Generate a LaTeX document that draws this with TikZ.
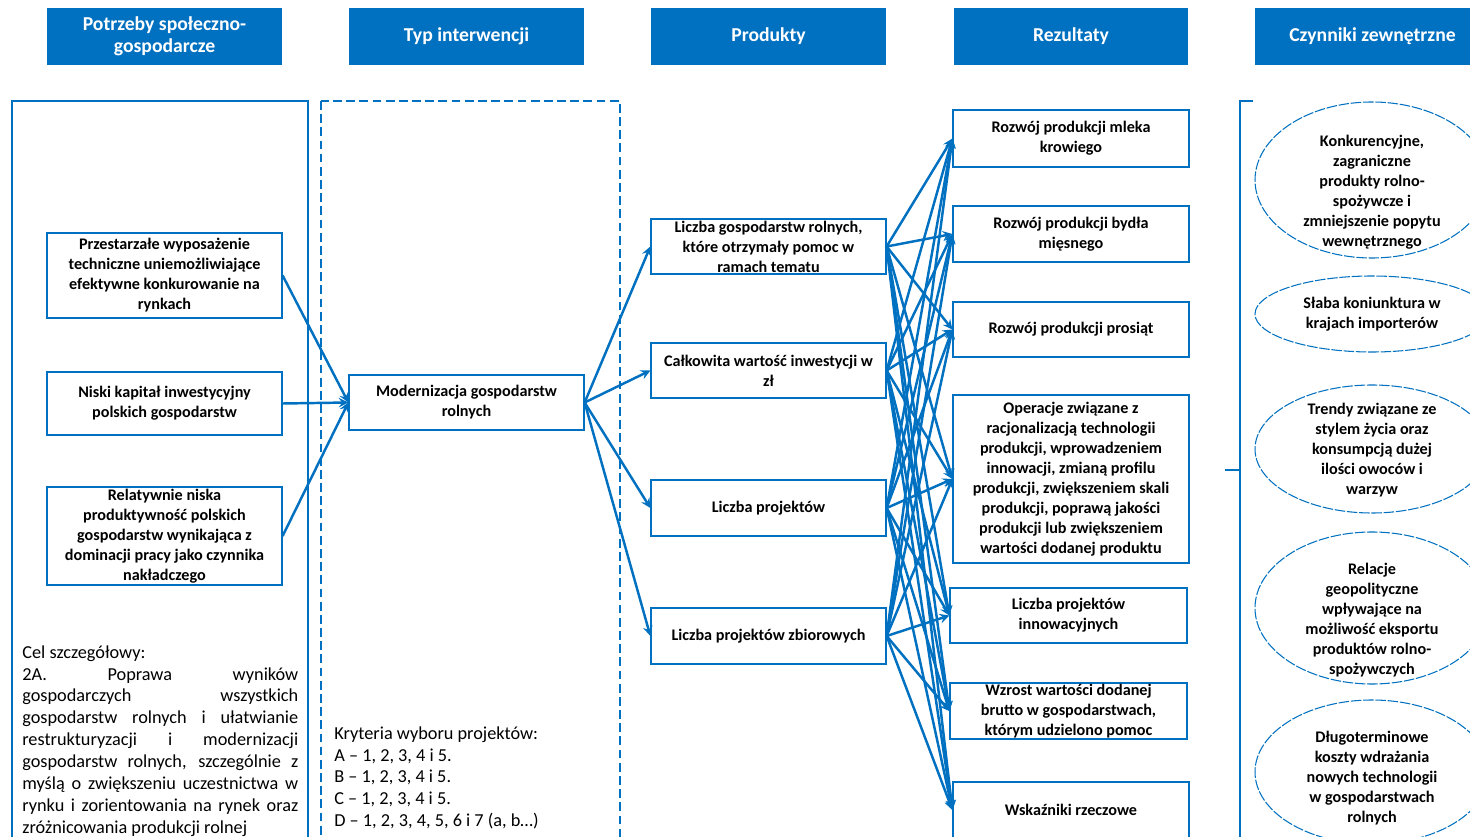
\documentclass[tikz,border=0pt]{standalone}
\usepackage{fontspec}
\setmainfont{Carlito}
\usepackage{xcolor}
\usepackage{tikz}
\usetikzlibrary{calc, shapes.geometric, positioning}
\definecolor{niebieski}{RGB}{0,112,192}

\begin{document}
\begin{tikzpicture}[>=stealth, x=0.02cm, y=-0.02cm,
    naglowek/.style={fill=niebieski, text=white, minimum width=4.7cm, minimum height=1.14cm,
        align=center, inner sep=0pt, font=\fontsize{11.2}{12.6}\selectfont\bfseries},
    ramka/.style={draw=niebieski, line width=0.75pt, minimum width=4.7cm, align=center,
        inner sep=0pt, font=\fontsize{9.2}{11.4}\selectfont\bfseries},
    czynnik/.style={align=center, inner sep=0pt, font=\fontsize{9.2}{11.4}\selectfont\bfseries},
    owal/.style={draw=niebieski, line width=0.6pt, dash pattern=on 6pt off 1pt},
    strzalka/.style={->, draw=niebieski, line width=1.4pt},
    opis/.style={anchor=north west, inner sep=0pt, font=\fontsize{10.4}{12.5}\selectfont}]
    % Obszar rysunku
    \useasboundingbox (0,0) rectangle (1470,837);
    \clip (0,0) rectangle (1470,837);

    % Nagłówki kolumn
    \node[naglowek] (h1) at (164.5,36.5) {Potrzeby społeczno-\\gospodarcze};
    \node[naglowek] (h2) at (466.5,36.5) {Typ interwencji};
    \node[naglowek] (h3) at (768.5,36.5) {Produkty};
    \node[naglowek] (h4) at (1071,36.5) {Rezultaty};
    \node[naglowek] (h5) at (1372.5,36.5) {Czynniki zewnętrzne};

    % Ramki kolumn: potrzeby (ciągła) i typ interwencji (przerywana)
    \draw[niebieski, line width=0.75pt] (12,101) rectangle (308,860);
    \draw[niebieski, line width=0.75pt, dash pattern=on 5pt off 2.5pt] (321,101) rectangle (620,860);

    % Potrzeby
    \node[ramka, minimum height=1.7cm] (n1) at (164.5,275.5)
        {Przestarzałe wyposażenie\\techniczne uniemożliwiające\\efektywne konkurowanie na\\rynkach};
    \node[ramka, minimum height=1.26cm] (n2) at (164.5,403.5)
        {Niski kapitał inwestycyjny\\polskich gospodarstw};
    \node[ramka, minimum height=1.96cm] (n3) at (164.5,536)
        {Relatywnie niska\\produktywność polskich\\gospodarstw wynikająca z\\dominacji pracy jako czynnika\\nakładczego};

    % Cel szczegółowy
    \node[opis, text width=5.52cm, align=justify] (cel) at (22,645)
        {Cel szczegółowy:\\
        2A. Poprawa wyników\linebreak gospodarczych wszystkich\linebreak
        gospodarstw rolnych i ułatwianie\linebreak restrukturyzacji i modernizacji\linebreak
        gospodarstw rolnych, szczególnie z\linebreak myślą o zwiększeniu uczestnictwa w\linebreak
        rynku i zorientowania na rynek oraz\linebreak zróżnicowania produkcji rolnej};

    % Typ interwencji i kryteria
    \node[ramka, minimum height=1.1cm] (m) at (466.5,402.5) {Modernizacja gospodarstw\\rolnych};
    \node[opis, align=left] (kryt) at (334,726)
        {Kryteria wyboru projektów:\\A – 1, 2, 3, 4 i 5.\\B – 1, 2, 3, 4 i 5.\\C – 1, 2, 3, 4 i 5.\\D – 1, 2, 3, 4, 5, 6 i 7 (a, b…)};

    % Produkty
    \node[ramka, minimum height=1.1cm] (p1) at (768.5,246.5)
        {Liczba gospodarstw rolnych,\\które otrzymały pomoc w\\ramach tematu};
    \node[ramka, minimum height=1.1cm] (p2) at (768.5,370.5) {Całkowita wartość inwestycji w\\zł};
    \node[ramka, minimum height=1.12cm] (p3) at (768.5,508) {Liczba projektów};
    \node[ramka, minimum height=1.12cm] (p4) at (768.5,636) {Liczba projektów zbiorowych};

    % Rezultaty
    \node[ramka, minimum height=1.14cm, minimum width=4.72cm] (r1) at (1071,138.5)
        {Rozwój produkcji mleka\\krowiego};
    \node[ramka, minimum height=1.12cm, minimum width=4.72cm] (r2) at (1071,234)
        {Rozwój produkcji bydła\\mięsnego};
    \node[ramka, minimum height=1.1cm, minimum width=4.72cm] (r3) at (1071,329.5)
        {Rozwój produkcji prosiąt};
    \node[ramka, minimum height=3.36cm, minimum width=4.72cm] (r4) at (1071,479)
        {Operacje związane z\\racjonalizacją technologii\\produkcji, wprowadzeniem\\innowacji, zmianą profilu\\produkcji, zwiększeniem skali\\produkcji, poprawą jakości\\produkcji lub zwiększeniem\\wartości dodanej produktu};
    \node[ramka, minimum height=1.1cm, minimum width=4.74cm] (r5) at (1068.5,615.5)
        {Liczba projektów\\innowacyjnych};
    \node[ramka, minimum height=1.12cm, minimum width=4.74cm] (r6) at (1068.5,711)
        {Wzrost wartości dodanej\\brutto w gospodarstwach,\\którym udzielono pomoc};
    \node[ramka, minimum height=1.12cm, minimum width=4.72cm] (r7) at (1071,810)
        {Wskaźniki rzeczowe};

    % Nawias przy czynnikach zewnętrznych
    \draw[niebieski, line width=0.8pt] (1253,101) -- (1240,101) -- (1240,860);
    \draw[niebieski, line width=0.8pt] (1225,470) -- (1240,470);

    % Czynniki zewnętrzne
    \draw[owal] (1372,180) ellipse [x radius=117, y radius=78];
    \node[czynnik] (e1) at (1372,192)
        {Konkurencyjne,\\zagraniczne\\produkty rolno-\\spożywcze i\\zmniejszenie popytu\\wewnętrznego};
    \draw[owal] (1372,314) ellipse [x radius=117, y radius=38];
    \node[czynnik] (e2) at (1372,314) {Słaba koniunktura w\\krajach importerów};
    \draw[owal] (1372,449) ellipse [x radius=117, y radius=64];
    \node[czynnik] (e3) at (1372,450)
        {Trendy związane ze\\stylem życia oraz\\konsumpcją dużej\\ilości owoców i\\warzyw};
    \draw[owal] (1372,608) ellipse [x radius=117, y radius=76];
    \node[czynnik] (e4) at (1372,620)
        {Relacje\\geopolityczne\\wpływające na\\możliwość eksportu\\produktów rolno-\\spożywczych};
    \draw[owal] (1372,772) ellipse [x radius=117, y radius=72];
    \node[czynnik] (e5) at (1372,778)
        {Długoterminowe\\koszty wdrażania\\nowych technologii\\w gospodarstwach\\rolnych};

    % Strzałki: potrzeby -> interwencja -> produkty -> rezultaty
    \foreach \p in {n1,n2,n3}
        \draw[strzalka] (\p.east) -- (m.west);
    \foreach \p in {p1,p2,p3,p4}
        \draw[strzalka] (m.east) -- (\p.west);
    \foreach \p in {p1,p2,p3,p4}
        \foreach \i in {1,...,7}
            \draw[strzalka] (\p.east) -- (r\i.west);
\end{tikzpicture}
\end{document}
